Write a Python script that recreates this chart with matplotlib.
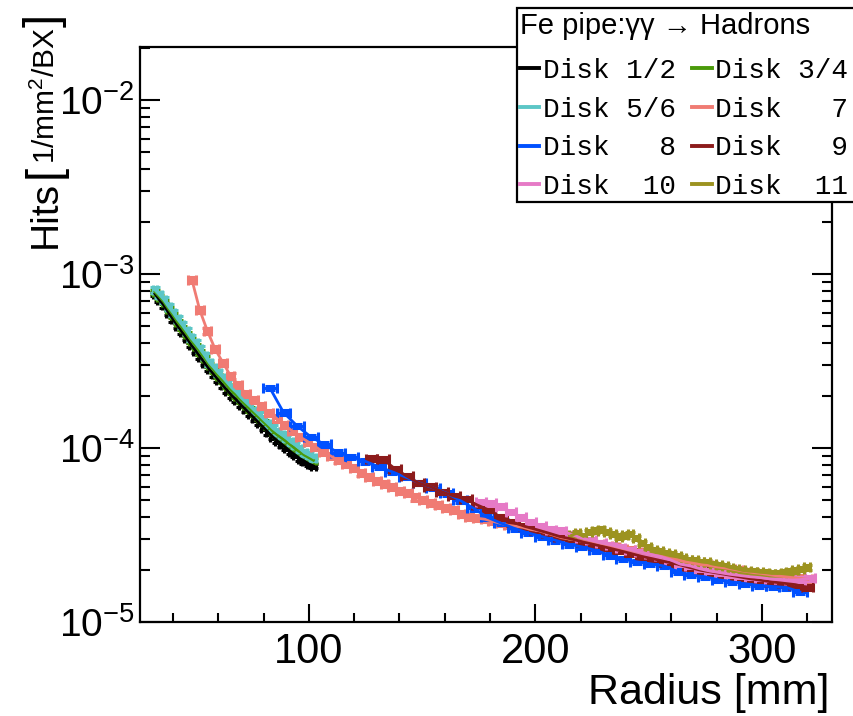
import numpy as np
import matplotlib
matplotlib.use("Agg")
import matplotlib.pyplot as plt
from matplotlib.lines import Line2D
from matplotlib.patches import Rectangle
from matplotlib.ticker import MultipleLocator, LogLocator, NullFormatter

plt.rcParams['font.family'] = ['Liberation Sans', 'DejaVu Sans']
plt.rcParams['mathtext.fontset'] = 'custom'
plt.rcParams['mathtext.rm'] = 'Liberation Sans'
plt.rcParams['mathtext.it'] = 'Liberation Sans:italic'
plt.rcParams['mathtext.bf'] = 'Liberation Sans:bold'

# ---------------- data (hits per mm^2 per BX, in units of 1e-5) ----------------
# Disks 1/2, 3/4, 5/6 : 2 mm bins starting at r = 32 mm
d12_start, d12_width = 32.0, 2.0
disk12 = [77, 71, 66, 60, 55, 50.5, 46.5, 43, 39.2, 36.3, 33.4, 30.8, 28.4, 26.5, 24.6, 22.9, 21.4, 20.0,
          18.9, 17.7, 16.7, 15.7, 14.8, 13.9, 13.1, 12.3, 11.6, 11.0, 10.5, 10.0, 9.5, 9.1, 8.7, 8.4, 8.1, 7.9]
disk34 = [79, 74, 69, 63, 58, 53, 49, 45.3, 41.5, 38.5, 35.5, 32.8, 30, 28, 26, 24.3, 22.7, 21.2,
          20, 18.8, 17.7, 16.7, 15.8, 14.9, 14.1, 13.3, 12.5, 11.9, 11.4, 10.9, 10.4, 9.9, 9.5, 9.1, 8.8, 8.5]
disk56 = [81, 76, 71, 65, 60, 55, 51, 47, 43, 40, 37, 34, 31, 29, 27, 25.4, 23.7, 22.1,
          20.9, 19.5, 18.4, 17.4, 16.4, 15.5, 14.6, 13.8, 13.0, 12.4, 11.9, 11.4, 10.8, 10.4, 9.9, 9.4, 9.1, 8.8]
# Disk 7 : 3.4 mm bins starting at 48.4 mm
d7_start, d7_width = 48.4, 3.4
disk7 = [92, 62, 47, 37, 31, 26, 23, 20.5, 19, 17.5, 16, 14.8, 13.6, 12.5, 11.6, 10.9, 10.2, 9.5,
         9.0, 8.5, 8.1, 7.7, 7.2, 6.8, 6.5, 6.2, 6.0, 5.7, 5.5, 5.2, 5.0, 4.85, 4.7, 4.55, 4.4, 4.2,
         4.0, 3.95, 3.9, 3.8, 3.7, 3.6, 3.55, 3.5, 3.4, 3.35, 3.25, 3.15, 3.05, 3.0, 2.95, 2.9, 2.85,
         2.8, 2.75, 2.7, 2.62, 2.58, 2.52, 2.48, 2.42, 2.38, 2.32, 2.28, 2.22, 2.18, 2.14, 2.12, 2.08,
         2.05, 2.02, 1.98, 1.95, 1.92, 1.9, 1.87, 1.84, 1.82, 1.8, 1.78, 1.76]
# Disk 8 : 6.0 mm bins starting at 82.8 mm
d8_start, d8_width = 82.8, 6.0
disk8 = [22.1, 16.0, 13.4, 11.6, 10.5, 9.4, 8.9, 8.4, 7.8, 7.3, 6.8, 6.3, 5.9, 5.5, 5.0, 4.5, 4.0,
         3.7, 3.45, 3.25, 3.1, 2.95, 2.8, 2.7, 2.58, 2.42, 2.3, 2.22, 2.16, 2.1, 1.95, 1.86, 1.82,
         1.75, 1.70, 1.66, 1.62, 1.60, 1.58, 1.49]
# Disk 9 : 5.2 mm bins starting at 127.6 mm
d9_start, d9_width = 127.6, 5.2
disk9 = [8.7, 8.6, 7.6, 6.9, 6.3, 6.0, 5.6, 5.3, 5.1, 4.7, 4.4, 4.0, 3.75, 3.55, 3.4, 3.25, 3.1,
         3.0, 2.88, 2.78, 2.68, 2.58, 2.48, 2.38, 2.3, 2.22, 2.15, 2.06, 1.98, 1.93, 1.88, 1.83,
         1.78, 1.74, 1.7, 1.67, 1.64, 1.58]
# Disk 10 : 4.4 mm bins starting at 176 mm
d10_start, d10_width = 176.0, 4.4
disk10 = [4.9, 4.8, 4.6, 4.3, 4.0, 3.75, 3.55, 3.4, 3.35, 3.2, 3.05, 2.95, 2.85, 2.78, 2.68, 2.6,
          2.52, 2.45, 2.38, 2.28, 2.15, 2.1, 2.02, 1.96, 1.92, 1.88, 1.85, 1.82, 1.80, 1.77, 1.76,
          1.74, 1.75, 1.78]
# Disk 11 : 2.6 mm bins starting at 216 mm
d11_start, d11_width = 216.0, 2.6
disk11 = [3.15, 3.25, 3.1, 3.3, 3.35, 3.4, 3.3, 3.2, 3.1, 3.15, 3.2, 3.05, 2.85, 2.7, 2.6, 2.55,
          2.5, 2.45, 2.38, 2.33, 2.28, 2.28, 2.22, 2.2, 2.15, 2.12, 2.1, 2.05, 2.02, 1.98, 1.96,
          1.95, 1.93, 1.92, 1.9, 1.9, 1.92, 1.95, 1.98, 2.02, 2.06]

labels = ["Disk 1/2", "Disk 3/4", "Disk 5/6", "Disk   7", "Disk   8", "Disk   9", "Disk  10", "Disk  11"]
colors = ["#000000", "#4a9a0a", "#5cc6c6", "#f07b73", "#0050ff", "#8c1b1b", "#e67ac6", "#9c9320"]
rel_err = [0.03, 0.03, 0.04, 0.04, 0.03, 0.03, 0.03, 0.03]

series = [
    (d12_start, d12_width, disk12),
    (d12_start, d12_width, disk34),
    (d12_start, d12_width, disk56),
    (d7_start, d7_width, disk7),
    (d8_start, d8_width, disk8),
    (d9_start, d9_width, disk9),
    (d10_start, d10_width, disk10),
    (d11_start, d11_width, disk11),
]

title_text = "Fe pipe:γγ → Hadrons"
xlabel = "Radius [mm]"
ylabel_main = "Hits"
ylabel_unit = r"1/mm$^{\mathregular{2}}$/BX"

# ---------------- figure ----------------
W, H, DPI = 854, 716, 100
fig = plt.figure(figsize=(W / DPI, H / DPI), dpi=DPI)
L, R, B, T = 140, 832, 622, 47
ax = fig.add_axes([L / W, 1 - B / H, (R - L) / W, (B - T) / H])

for (s, w, vals), c, e in zip(series, colors, rel_err):
    x = s + w * np.arange(len(vals))
    y = np.array(vals) * 1e-5
    ax.errorbar(x, y, xerr=w / 2, yerr=y * e, color=c, lw=2.0, elinewidth=2.2,
                capsize=3.8, capthick=2.2, zorder=3)

ax.set_yscale('log')
ax.set_xlim(25.4, 331)
ax.set_ylim(1e-5, 0.0202)

for sp in ax.spines.values():
    sp.set_linewidth(1.6)

ax.xaxis.set_major_locator(MultipleLocator(100))
ax.xaxis.set_minor_locator(MultipleLocator(20))
ax.yaxis.set_minor_locator(LogLocator(base=10, subs=np.arange(2, 10), numticks=20))
ax.yaxis.set_minor_formatter(NullFormatter())
ax.set_yticks([1e-5, 1e-4, 1e-3, 1e-2])
ax.set_yticklabels([r"$\mathregular{10^{-5}}$", r"$\mathregular{10^{-4}}$",
                    r"$\mathregular{10^{-3}}$", r"$\mathregular{10^{-2}}$"])

ax.tick_params(axis='x', which='major', direction='in', length=13, width=1.5,
               labelsize=30, pad=7, top=False)
ax.tick_params(axis='x', which='minor', direction='in', length=6.5, width=1.5, top=False)
ax.tick_params(axis='y', which='major', direction='in', length=14.4, width=1.5,
               labelsize=28, pad=4, right=True)
ax.tick_params(axis='y', which='minor', direction='in', length=7.2, width=1.5, right=True)

fig.text(830 / W, 1 - 713 / H, xlabel, ha='right', va='bottom', fontsize=31)
# y axis title: "Hits [1/mm^2/BX]" with tall brackets
fig.text(46 / W, 1 - 248 / H, ylabel_main, ha='center', va='bottom', rotation=90, fontsize=28)
fig.text(45 / W, 1 - 171 / H, "[", ha='center', va='center', rotation=90, fontsize=34)
fig.text(46 / W, 1 - 96 / H, ylabel_unit, ha='center', va='center', rotation=90, fontsize=21.5)
fig.text(45 / W, 1 - 20 / H, "]", ha='center', va='center', rotation=90, fontsize=34)

# ---------------- legend (row-wise order, 2 columns) ----------------
handles = [Line2D([], [], color=c, lw=2.8) for c in colors]
col_order = [0, 2, 4, 6, 1, 3, 5, 7]
leg = fig.legend([handles[i] for i in col_order], [labels[i] for i in col_order], ncol=2,
                 loc='upper left', bbox_to_anchor=(517 / W, 1 - 9 / H),
                 bbox_transform=fig.transFigure,
                 frameon=False, borderpad=0.1, borderaxespad=0,
                 handlelength=0.7, handletextpad=0.12, columnspacing=0.6,
                 labelspacing=0.46, prop={'family': 'Liberation Mono', 'size': 20},
                 title=title_text,
                 title_fontproperties={'family': ['Liberation Sans', 'DejaVu Sans'], 'size': 21},
                 alignment='left')
leg._legend_box.sep = 13
fig.add_artist(Rectangle((517 / W, 1 - 202 / H), 400 / W, 194 / H, transform=fig.transFigure,
                         fill=True, facecolor='white', edgecolor='black', lw=1.6, zorder=0.5,
                         clip_on=False))
leg.set_zorder(5)

fig.savefig("out.png", dpi=DPI)
